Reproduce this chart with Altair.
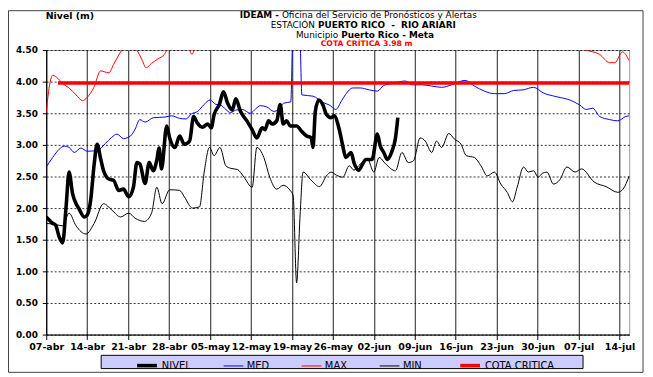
import json
import altair as alt
import pandas as pd

# ---------------- data (day offset from 07-abr, level in m) ----------------
nivel_day = [0, 1.1, 1.6, 2.2, 2.8, 3.4, 3.9, 4.5, 5.1, 5.6, 6.5, 7.0, 7.6, 8.2, 8.7, 9.3, 9.8,
             10.7, 11.5, 12.4, 13.2, 14.1, 14.9, 15.5, 16.0, 16.9, 17.6, 18.3, 18.9, 19.3, 19.7,
             20.6, 21.1, 22.0, 22.8, 23.6, 24.5, 25.2, 25.8, 26.7, 27.6, 28.2, 28.7, 29.6, 30.3,
             31.0, 31.8, 32.4, 33.2, 34.3, 35.2, 36.0, 36.9, 37.4, 38.0, 38.6, 39.4, 40.0, 40.5,
             41.1, 41.7, 42.8, 43.6, 44.5, 45.3, 45.6, 46.0, 46.6, 47.3, 47.9, 48.7, 49.2, 50.1,
             50.7, 51.2, 52.1, 52.6, 53.4, 54.1, 54.6, 55.7, 56.6, 57.1, 57.7, 58.3, 59.1, 59.7, 60.1]
nivel_val = [1.86, 1.76, 1.73, 1.55, 1.45, 2.03, 2.57, 2.23, 2.07, 1.99, 1.86, 1.89, 2.13, 2.70, 3.01, 2.78, 2.59,
             2.46, 2.44, 2.28, 2.30, 2.18, 2.33, 2.72, 2.70, 2.39, 2.72, 2.59, 2.76, 2.95, 2.62,
             3.30, 3.11, 2.96, 3.14, 3.01, 3.06, 3.45, 3.35, 3.28, 3.33, 3.27, 3.48, 3.64, 3.84,
             3.66, 3.55, 3.73, 3.53, 3.38, 3.24, 3.11, 3.27, 3.24, 3.38, 3.33, 3.38, 3.64, 3.33,
             3.38, 3.30, 3.30, 3.22, 3.14, 3.11, 2.96, 3.53, 3.71, 3.63, 3.48, 3.43, 3.46, 3.24,
             2.98, 2.80, 2.88, 2.72, 2.60, 2.70, 2.77, 2.77, 3.17, 2.98, 2.88, 2.77, 2.90, 3.11, 3.43]

med_day = [0, 1.1, 2.2, 3.1, 3.9, 4.8, 5.9, 7.0, 8.7, 10.1, 11.2, 12.1, 13.2, 14.4, 15.2, 16.0, 16.9,
           18.3, 20.3, 21.4, 22.8, 23.9, 24.8, 25.9, 27.0, 28.0, 29.0, 29.8, 30.7, 31.5, 32.4, 33.5,
           34.9, 35.8, 36.6, 37.7, 38.9, 39.7, 40.6, 41.8, 42.2, 43.3, 43.7, 45.6, 47.3, 48.4, 49.5,
           50.5, 51.2, 52.4, 53.7, 55.2, 56.6, 57.7, 59.1, 61.4, 62.5, 64.2, 65.9, 67.6, 69.3, 71.6,
           73.2, 74.9, 76.6, 78.3, 79.9, 81.5, 83.3, 85.0, 87.3, 89.5, 91.2, 92.3, 93.4, 94.6, 96.3,
           97.7, 99.1, 99.65]
med_val = [2.65, 2.80, 2.93, 2.98, 2.96, 2.88, 2.95, 2.90, 2.91, 3.02, 3.12, 3.17, 3.10, 3.14, 3.25, 3.40, 3.36,
           3.43, 3.44, 3.46, 3.42, 3.41, 3.49, 3.53, 3.64, 3.71, 3.64, 3.63, 3.56, 3.51, 3.55, 3.56,
           3.50, 3.57, 3.62, 3.60, 3.53, 3.56, 3.66, 3.68, 4.90, 4.90, 3.79, 3.77, 3.67, 3.63, 3.56,
           3.70, 3.80, 3.90, 3.90, 3.87, 3.85, 3.94, 3.97, 4.01, 3.95, 3.95, 3.93, 3.91, 3.95, 4.02,
           3.93, 3.85, 3.81, 3.81, 3.86, 3.87, 3.91, 3.82, 3.76, 3.71, 3.63, 3.56, 3.58, 3.45, 3.40,
           3.38, 3.45, 3.46]

max_day = [0, 0.4, 1.1, 2.0, 2.8, 3.9, 5.1, 6.2, 7.0, 8.15, 9.3, 10.7, 11.5, 12.9, 14.0, 15.5, 16.3,
           17.1, 18.0, 19.1, 20.2, 21.0, 22.0, 23.0, 24.5, 24.9, 25.3, 27.0, 30.0, 34.0, 38.0, 42.0,
           43.5, 48.0, 55.0, 62.0, 68.0, 72.5, 76.0, 82.0, 88.0, 92.3, 94.6, 96.3, 97.2, 98.5, 99.65]
max_val = [3.51, 3.84, 4.10, 4.05, 3.97, 3.90, 3.79, 3.70, 3.75, 3.91, 4.17, 4.14, 4.27, 4.50, 4.65, 4.50, 4.36,
           4.22, 4.29, 4.36, 4.43, 4.55, 4.51, 4.60, 4.50, 4.43, 4.50, 4.70, 4.80, 4.70, 4.75, 4.52,
           4.70, 4.80, 4.75, 4.80, 4.70, 4.51, 4.70, 4.80, 4.70, 4.50, 4.43, 4.30, 4.30, 4.47, 4.33]

min_day = [0, 1.6, 2.8, 3.9, 5.1, 6.8, 8.2, 9.8, 11.2, 12.7, 14.1, 15.2, 16.8, 18.0, 18.9, 19.8, 21.1,
           22.8, 23.6, 25.0, 26.2, 27.0, 27.9, 28.7, 29.7, 30.7, 31.5, 32.7, 33.8, 35.2, 36.0, 37.2,
           38.2, 39.4, 40.5, 41.7, 42.2, 42.8, 43.4, 43.9, 45.3, 46.7, 47.9, 48.7, 49.6, 50.7, 51.8,
           52.6, 53.4, 54.9, 56.0, 56.9, 58.0, 59.7, 60.8, 61.9, 62.8, 63.9, 64.8, 65.9, 66.7, 67.6,
           68.8, 69.8, 70.9, 71.8, 73.2, 74.3, 75.4, 76.6, 77.7, 78.8, 79.7, 80.5, 81.6, 82.4, 83.3,
           84.1, 84.8, 85.6, 86.7, 87.8, 89.0, 90.4, 91.5, 93.7, 95.7, 97.7, 98.6, 99.65]
min_val = [1.76, 1.74, 1.72, 1.92, 1.72, 1.59, 1.76, 2.07, 1.97, 1.86, 1.92, 1.84, 1.79, 1.92, 2.33, 2.07, 2.29,
           2.28, 2.18, 2.00, 2.02, 2.57, 2.96, 2.83, 2.96, 2.67, 2.63, 2.61, 2.49, 2.33, 2.96, 2.80,
           2.49, 2.30, 2.36, 2.28, 2.20, 0.82, 1.90, 2.57, 2.44, 2.34, 2.51, 2.57, 2.52, 2.49, 2.67,
           2.60, 2.67, 2.78, 2.57, 2.80, 2.70, 2.59, 2.88, 2.72, 2.75, 3.11, 3.06, 2.88, 3.06, 2.96,
           3.18, 3.09, 3.01, 2.83, 2.80, 2.67, 2.51, 2.57, 2.38, 2.25, 2.10, 2.33, 2.65, 2.57, 2.59,
           2.49, 2.55, 2.57, 2.38, 2.45, 2.65, 2.57, 2.62, 2.41, 2.34, 2.25, 2.30, 2.51]

cota_day = [2.0, 99.65]
cota_val = [3.98, 3.98]

tick_days = [0, 7, 14, 21, 28, 35, 42, 49, 56, 63, 70, 77, 84, 91, 98]
tick_labels = ["07-abr", "14-abr", "21-abr", "28-abr", "05-may", "12-may", "19-may", "26-may",
               "02-jun", "09-jun", "16-jun", "23-jun", "30-jun", "07-jul", "14-jul"]
y_ticks = [0, 0.5, 1.0, 1.5, 2.0, 2.5, 3.0, 3.5, 4.0, 4.5]
X_END = 99.65

series_names = ["NIVEL", "MED", "MAX", "MIN", "COTA CRITICA"]
series_colors = ["#000000", "#0000ff", "#ff0000", "#000000", "#ff0000"]
series_widths = [3.6, 1, 1, 1, 3.6]

title1_bold = "IDEAM -"
title1_reg = "Oficina del Servicio de Pronósticos y Alertas"
title2_reg = "ESTACIÓN"
title2_bold = "PUERTO RICO\u00a0 -\u00a0 RIO ARIARI"
title3_reg = "Municipio"
title3_bold = "Puerto Rico - Meta"
title4 = "COTA CRÍTICA  3.98 m"

# ---------------- build table ----------------
rows = []
draw_order = [("MIN", min_day, min_val), ("MAX", max_day, max_val), ("MED", med_day, med_val),
              ("COTA CRITICA", cota_day, cota_val), ("NIVEL", nivel_day, nivel_val)]
for k, (name, days, vals) in enumerate(draw_order):
    for d, v in zip(days, vals):
        rows.append({"serie": name, "dia": d, "nivel": v, "k": k})
df = pd.DataFrame(rows)

W, H = 590, 288
FONT = "DejaVu Sans"

legend = alt.Legend(orient="none", legendX=90, legendY=307, direction="horizontal", title=None,
                    symbolType="stroke", symbolSize=400, labelFont=FONT, labelFontSize=10,
                    labelColor="black", labelOffset=3, columnPadding=30, padding=0)

label_expr = json.dumps(tick_labels) + "[round(datum.value/7)]"

lines = alt.Chart(df).mark_line(interpolate="monotone", clip=True, strokeJoin="round").encode(
    x=alt.X("dia:Q", scale=alt.Scale(domain=[0, X_END], nice=False, zero=False),
            axis=alt.Axis(values=tick_days, labelExpr=label_expr, title=None, grid=True,
                          gridColor="#202020", gridWidth=1, domainColor="black", tickColor="black",
                          tickSize=5, labelFont=FONT, labelFontWeight="bold", labelFontSize=9.6,
                          labelColor="black", labelPadding=2, labelFlush=False, labelOverlap=False)),
    y=alt.Y("nivel:Q", scale=alt.Scale(domain=[0, 4.5], nice=False, zero=True),
            axis=alt.Axis(values=y_ticks, format=".2f", title="Nivel (m)", titleAngle=0,
                          titleAlign="left", titleBaseline="middle", titleX=-1, titleY=-35,
                          titleFont=FONT, titleFontSize=9.5, titleFontWeight="bold", titleColor="black",
                          grid=True, gridColor="#000000", gridWidth=0.8, gridDash=[2, 2],
                          domainColor="black", tickColor="black", tickSize=4, labelFont=FONT,
                          labelFontWeight="bold", labelFontSize=9, labelColor="black", labelPadding=5)),
    color=alt.Color("serie:N", scale=alt.Scale(domain=series_names, range=series_colors), legend=legend),
    strokeWidth=alt.StrokeWidth("serie:N",
                                scale=alt.Scale(type="ordinal", domain=series_names, range=series_widths),
                                legend=legend),
    detail="serie:N",
    order="k:Q",
)

one = alt.Data(values=[{}])

frame = alt.Chart(one).mark_rect(filled=False, stroke="#404040", strokeWidth=1).encode(
    x=alt.value(-38.2), x2=alt.value(604), y=alt.value(-39.8), y2=alt.value(326.2))

legend_box = alt.Chart(one).mark_rect(fill="#ccccff", stroke="black", strokeWidth=1).encode(
    x=alt.value(55.6), x2=alt.value(543.3), y=alt.value(309), y2=alt.value(322.4))


def txt(s, x, y, align, weight="normal", size=9, color="black"):
    return alt.Chart(one).mark_text(align=align, baseline="middle", font=FONT, fontSize=size,
                                    fontWeight=weight, color=color).encode(
        x=alt.value(x), y=alt.value(y), text=alt.value(s))


titles = [
    txt(title1_bold, 235.5, -35.2, "right", "bold"),
    txt(title1_reg, 238.5, -35.2, "left"),
    txt(title2_reg, 272.0, -25.2, "right"),
    txt(title2_bold, 275.0, -25.2, "left", "bold"),
    txt(title3_reg, 295.5, -15.2, "right"),
    txt(title3_bold, 298.5, -15.2, "left", "bold"),
    txt(title4, 324.3, -5.6, "center", "bold", 7.8, "#ff0000"),
]

chart = alt.layer(frame, legend_box, lines, *titles).properties(
    width=W, height=H,
    padding={"left": 38.7, "top": 40.3, "right": 16, "bottom": 41},
    autosize=alt.AutoSizeParams(type="none"),
    background="white",
).configure_view(stroke="#9a9a9a", strokeWidth=1)

chart.save("out.html", embed_options={"renderer": "svg", "actions": False})
